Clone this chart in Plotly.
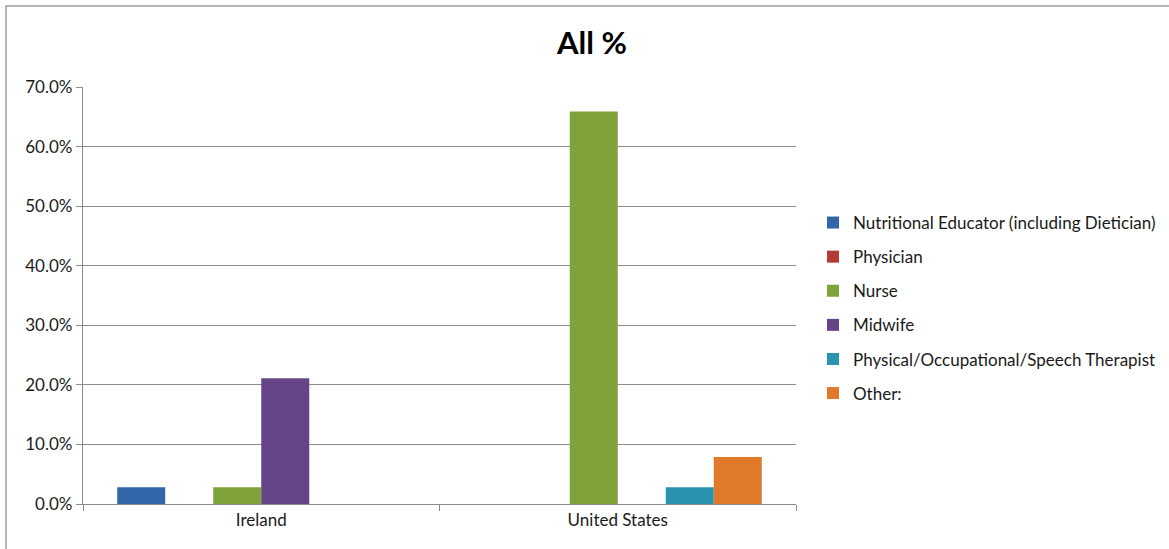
import plotly.graph_objects as go

# Survey shares by profession, per country
countries = ["Ireland", "United States"]
professions = [
    "Nutritional Educator (including Dietician)",
    "Physician",
    "Nurse",
    "Midwife",
    "Physical/Occupational/Speech Therapist",
    "Other:",
]
nutritional_educator = [0.028, 0.0]
physician = [0.0, 0.0]
nurse = [0.028, 0.659]
midwife = [0.211, 0.0]
therapist = [0.0, 0.028]
other = [0.0, 0.079]

series_values = [nutritional_educator, physician, nurse, midwife, therapist, other]
colors = ["#3266A8", "#B23A37", "#7FA23A", "#654587", "#2A93B0", "#E0792A"]
y_ticks = [0.0, 0.1, 0.2, 0.3, 0.4, 0.5, 0.6, 0.7]

FONT = "Lato, 'Open Sans', sans-serif"
TEXT_SIZE = 17

fig = go.Figure()
for i, (name, vals, col) in enumerate(zip(professions, series_values, colors)):
    fig.add_trace(go.Bar(
        name=name,
        x=countries,
        y=vals,
        marker=dict(color=col, line=dict(width=0)),
        legendgroup=f"g{i}",
    ))

W, H = 1169, 549
L, R, T, B = 83, 373, 87, 45
pw, ph = W - L - R, H - T - B

def px_x(px):
    return (px - L) / pw

def px_y(py):
    return (H - B - py) / ph

fig.update_layout(
    width=W,
    height=H,
    margin=dict(l=L, r=R, t=T, b=B, autoexpand=False),
    paper_bgcolor="white",
    plot_bgcolor="white",
    barmode="group",
    bargap=0.192,
    bargroupgap=0,
    font=dict(family=FONT, size=TEXT_SIZE, color="#1a1a1a"),
    title=dict(
        text="<b>All %</b>",
        x=px_x(592), xref="paper", xanchor="center",
        y=1 - 43 / H, yanchor="middle",
        font=dict(family=FONT, size=31, color="#000000"),
    ),
    showlegend=True,
    legend=dict(
        x=px_x(813), xanchor="left",
        y=px_y(308), yanchor="middle",
        font=dict(family=FONT, size=TEXT_SIZE, color="#1a1a1a"),
        tracegroupgap=9,
        itemwidth=30,
        bgcolor="rgba(0,0,0,0)",
    ),
    xaxis=dict(
        type="category",
        showline=True, linecolor="#8c8c8c", linewidth=1.3,
        ticks="outside", ticklen=6, tickcolor="#8c8c8c",
        tickson="boundaries",
        showgrid=False,
        tickfont=dict(family=FONT, size=TEXT_SIZE, color="#1a1a1a"),
    ),
    yaxis=dict(
        range=[0, 0.7],
        tickvals=y_ticks,
        tickformat=".1%",
        showline=True, linecolor="#8c8c8c", linewidth=1.3,
        ticks="outside", ticklen=6, tickcolor="#8c8c8c",
        showgrid=True, gridcolor="#8c8c8c", gridwidth=1.3,
        zeroline=False,
        tickfont=dict(family=FONT, size=TEXT_SIZE, color="#1a1a1a"),
    ),
)

# Outer chart frame
fig.add_shape(
    type="rect", xref="paper", yref="paper",
    x0=px_x(6), x1=px_x(1180), y0=px_y(560), y1=px_y(6),
    line=dict(color="#a0a0a0", width=1.5),
    fillcolor="rgba(0,0,0,0)",
    layer="below",
)

fig.write_html("out.html")
